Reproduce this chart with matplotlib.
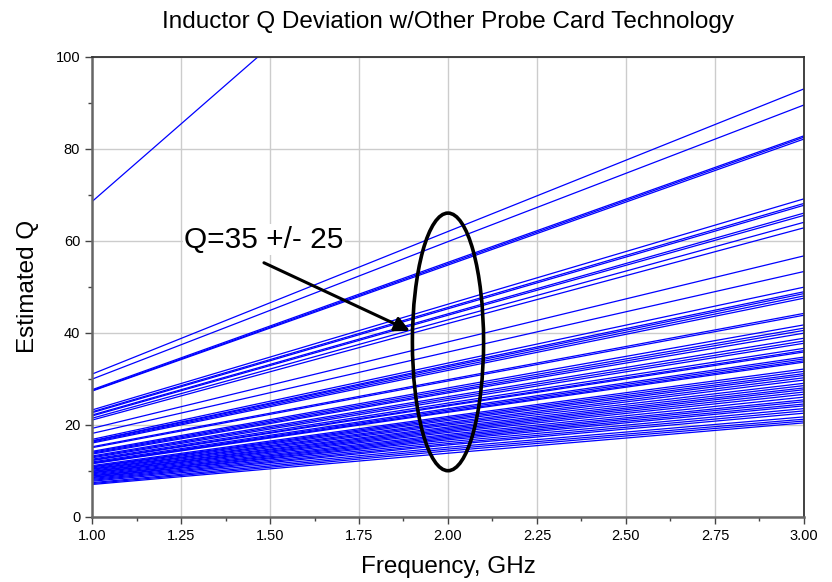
import numpy as np
from matplotlib import pyplot as plt
from matplotlib.patches import Ellipse
from matplotlib.ticker import MultipleLocator

# frequency points (GHz) at which each curve was read
freq = [1.0, 2.0, 3.0]

# estimated Q read at 1, 2 and 3 GHz for every probe-card measurement
q_curves = [
    [68.5, 136.0, 203.0],
    [31.0, 62.0, 93.0],
    [29.9, 59.8, 89.5],
    [27.6, 55.3, 82.8],
    [27.4, 55.0, 82.5],
    [27.3, 54.7, 82.1],
    [23.2, 46.2, 69.1],
    [22.8, 45.5, 68.1],
    [22.6, 45.2, 67.7],
    [22.1, 44.1, 66.0],
    [21.9, 43.8, 65.5],
    [21.4, 42.8, 64.0],
    [21.0, 42.0, 62.8],
    [19.2, 38.0, 56.7],
    [18.1, 35.8, 53.3],
    [16.8, 33.4, 49.9],
    [16.5, 32.9, 48.9],
    [16.4, 32.6, 48.5],
    [16.2, 32.2, 48.0],
    [16.0, 31.8, 47.5],
    [15.2, 29.8, 44.2],
    [15.0, 29.5, 43.8],
    [14.2, 28.0, 41.7],
    [14.0, 27.6, 41.0],
    [13.8, 27.2, 40.5],
    [13.6, 26.9, 39.9],
    [13.2, 26.1, 38.8],
    [13.0, 25.7, 38.2],
    [12.8, 25.3, 37.7],
    [12.5, 24.7, 36.6],
    [12.3, 24.3, 36.1],
    [12.2, 24.1, 35.8],
    [11.9, 23.5, 34.7],
    [11.7, 23.2, 34.3],
    [11.6, 22.9, 33.9],
    [11.5, 22.7, 33.6],
    [11.1, 21.8, 32.1],
    [10.9, 21.5, 31.6],
    [10.8, 21.2, 31.1],
    [10.6, 20.9, 30.7],
    [10.4, 20.5, 30.2],
    [10.3, 20.2, 29.7],
    [10.1, 19.9, 29.0],
    [9.9, 19.5, 28.5],
    [9.8, 19.2, 28.0],
    [9.6, 18.9, 27.6],
    [9.5, 18.6, 27.1],
    [9.3, 18.3, 26.6],
    [9.1, 17.9, 26.0],
    [8.9, 17.6, 25.4],
    [8.8, 17.3, 25.0],
    [8.6, 17.0, 24.5],
    [8.5, 16.7, 24.1],
    [8.3, 16.3, 23.5],
    [8.1, 15.9, 23.0],
    [7.9, 15.6, 22.5],
    [7.7, 15.1, 21.7],
    [7.4, 14.7, 21.2],
    [7.2, 14.3, 20.8],
    [7.0, 13.8, 20.4],
]

x_ticks = [1.00, 1.25, 1.50, 1.75, 2.00, 2.25, 2.50, 2.75, 3.00]
y_ticks = [0, 20, 40, 60, 80, 100]

if __name__ == '__main__':
    plt.rcParams['font.family'] = ['Liberation Sans', 'DejaVu Sans']

    fig = plt.figure(figsize=(8.32, 5.82), dpi=100)
    ax = fig.add_axes([0.1106, 0.1122, 0.8557, 0.7904])

    for q in q_curves:
        ax.plot(freq, q, color='#0000ff', lw=0.9, zorder=2)

    ax.set_xlim(1.0, 3.0)
    ax.set_ylim(0, 100)
    ax.set_xticks(x_ticks)
    ax.set_xticklabels([f'{v:.2f}' for v in x_ticks])
    ax.set_yticks(y_ticks)
    ax.xaxis.set_minor_locator(MultipleLocator(0.125))
    ax.yaxis.set_minor_locator(MultipleLocator(10))
    ax.grid(True, which='major', color='#cccccc', lw=1.0, zorder=0)
    ax.set_axisbelow(True)
    ax.tick_params(which='major', direction='out', length=5, width=1, color='#444444',
                   labelsize=10.5)
    ax.tick_params(which='minor', direction='out', length=3, width=1, color='#444444')
    for side in ['left', 'bottom']:
        ax.spines[side].set_color('#666666')
        ax.spines[side].set_linewidth(1.8)
    for side in ['top', 'right']:
        ax.spines[side].set_color('#333333')
        ax.spines[side].set_linewidth(1.3)

    ax.set_xlabel('Frequency, GHz', fontsize=17.5, labelpad=10)
    ax.set_ylabel('Estimated Q', fontsize=17.5, labelpad=12)
    fig.text(0.539, 0.962, 'Inductor Q Deviation w/Other Probe Card Technology',
             ha='center', va='center', fontsize=17.5)

    ax.add_patch(Ellipse((2.0, 38.0), 0.2, 56.0, fill=False, ec='black', lw=2.6, zorder=4))
    ax.annotate('', xy=(1.893, 40.4), xytext=(1.483, 55.2),
                arrowprops=dict(arrowstyle='-|>,head_length=0.9,head_width=0.45',
                                color='black', lw=2.2, shrinkA=0, shrinkB=0), zorder=5)
    ax.text(1.483, 60.2, 'Q=35 +/- 25', ha='center', va='center', fontsize=21.5,
            bbox=dict(fc='white', ec='none', pad=1), zorder=5)

    fig.savefig('out.png', dpi=100)
